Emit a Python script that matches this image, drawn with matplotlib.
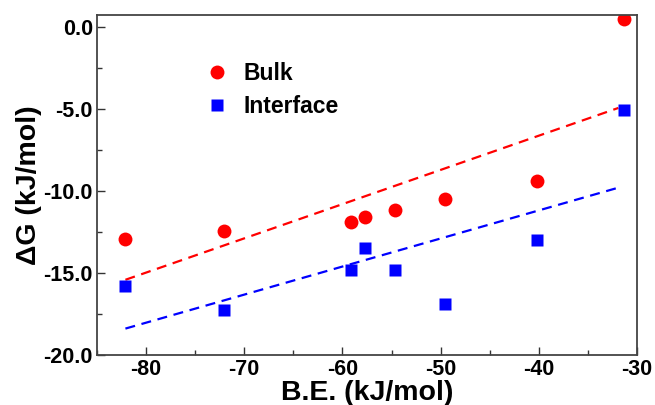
import numpy as np
import matplotlib
matplotlib.use("Agg")
import matplotlib.pyplot as plt
from matplotlib.ticker import MultipleLocator, FormatStrFormatter

plt.rcParams['font.family'] = ['Liberation Sans', 'DejaVu Sans']
plt.rcParams['font.weight'] = 'bold'
plt.rcParams['axes.unicode_minus'] = False

# binding energy (kJ/mol)
be = [-82.1, -72.1, -59.1, -57.7, -54.6, -49.6, -40.2, -31.3]
# free energy (kJ/mol)
dg_bulk = [-12.93, -12.42, -11.89, -11.57, -11.18, -10.5, -9.4, 0.49]
dg_interface = [-15.8, -17.26, -14.82, -13.46, -14.82, -16.9, -13.0, -5.06]
fit_range = [-82.1, -31.9]

fig = plt.figure(figsize=(6.55, 4.05), dpi=100)
ax = fig.add_axes([0.148, 0.1235, 0.8245, 0.8395])

xs = np.array(fit_range)
# linear fits
pb = np.polyfit(be, dg_bulk, 1)
pi = np.polyfit(be, dg_interface, 1)
ax.plot(xs, np.polyval(pb, xs), color='red', lw=1.6, ls=(0, (4.5, 3)))
ax.plot(xs, np.polyval(pi, xs), color='blue', lw=1.6, ls=(0, (4.5, 3)))

ax.plot(be, dg_bulk, 'o', color='red', ms=10, mec='none', label='Bulk')
ax.plot(be, dg_interface, 's', color='blue', ms=8.8, mec='none', label='Interface')

ax.set_xlim(-85, -30)
ax.set_ylim(-20, 0.75)
ax.xaxis.set_major_locator(MultipleLocator(10))
ax.xaxis.set_minor_locator(MultipleLocator(5))
ax.yaxis.set_major_locator(MultipleLocator(5))
ax.yaxis.set_minor_locator(MultipleLocator(2.5))
ax.yaxis.set_major_formatter(FormatStrFormatter('%.1f'))
ax.tick_params(which='both', direction='in', top=False, right=False,
               labelsize=15.5, width=1, color='#333333', pad=3)
ax.tick_params(which='major', length=6)
ax.tick_params(which='minor', length=3.6)
for s in ax.spines.values():
    s.set_linewidth(1.3)
    s.set_color('#444444')

ax.set_xlabel('B.E. (kJ/mol)', fontsize=20.5, fontweight='bold', labelpad=0)
ax.set_ylabel('ΔG (kJ/mol)', fontsize=20.5, fontweight='bold', labelpad=1)

ax.legend(loc='upper left', bbox_to_anchor=(0.167, 0.922), frameon=False,
          fontsize=16.5, handlelength=0.8, handletextpad=0.75, labelspacing=0.45,
          numpoints=1)

fig.savefig('out.png', dpi=100)
